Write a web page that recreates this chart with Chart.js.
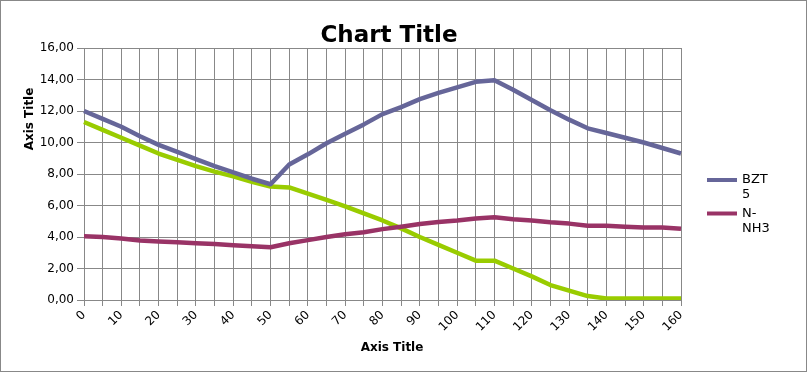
<!DOCTYPE html>
<html>
<head>
<meta charset="utf-8">
<script src="https://cdn.jsdelivr.net/npm/chart.js@4"></script>
<style>
  body { margin: 0; background: #fff; }
  #wrap { position: relative; width: 807px; height: 372px; }
  #frame { position: absolute; left: 0; top: 0; width: 807px; height: 372px; box-sizing: border-box; border: 1px solid #888; pointer-events: none; }
</style>
</head>
<body>
<div id="wrap">
  <canvas id="chart" width="807" height="372"></canvas>
  <div id="frame"></div>
</div>
<script>
// Data
const xLabels = [0, 5, 10, 15, 20, 25, 30, 35, 40, 45, 50, 55, 60, 65, 70, 75, 80,
                 85, 90, 95, 100, 105, 110, 115, 120, 125, 130, 135, 140, 145, 150, 155, 160];
const seriesNames = ['BZT 5', 'N-NH3', 'Series 3'];
const bzt5 = [12.0, 11.5, 11.0, 10.4, 9.85, 9.4, 8.95, 8.5, 8.1, 7.7, 7.35,
              8.6, 9.25, 9.95, 10.55, 11.15, 11.8, 12.25, 12.75, 13.15, 13.5, 13.85, 13.95,
              13.35, 12.7, 12.05, 11.45, 10.9, 10.6, 10.3, 10.0, 9.65, 9.3];
const nnh3 = [4.05, 4.0, 3.9, 3.78, 3.72, 3.67, 3.6, 3.55, 3.48, 3.42, 3.35,
              3.6, 3.8, 4.0, 4.18, 4.3, 4.5, 4.65, 4.82, 4.95, 5.05, 5.18, 5.25,
              5.12, 5.05, 4.93, 4.85, 4.72, 4.72, 4.65, 4.6, 4.6, 4.52];
const series3 = [11.3, 10.8, 10.3, 9.8, 9.3, 8.9, 8.5, 8.15, 7.85, 7.5, 7.2,
                 7.15, 6.75, 6.35, 5.95, 5.5, 5.05, 4.55, 4.0, 3.5, 3.0, 2.5, 2.5,
                 2.0, 1.5, 0.95, 0.6, 0.25, 0.1, 0.1, 0.1, 0.1, 0.1];
const legendShown = [true, true, false];

const chartTitle = 'Chart Title';
const xTitle = 'Axis Title';
const yTitle = 'Axis Title';

const FONT = '"DejaVu Sans", sans-serif';

/**
 * Break a legend label into lines that fit a narrow width
 */
function wrapLabel(ctx, text, maxWidth) {
    const tokens = text.replace(/-/g, '-\u0000').split(/\u0000| /).filter(t => t);
    const lines = [];
    let cur = '';
    tokens.forEach(tok => {
        const sep = cur && !cur.endsWith('-') ? ' ' : '';
        const trial = cur + sep + tok;
        if (cur && ctx.measureText(trial).width > maxWidth) {
            lines.push(cur);
            cur = tok;
        } else {
            cur = trial;
        }
    });
    if (cur) lines.push(cur);
    return lines;
}

/**
 * Titles and the wrapped legend drawn on the canvas
 */
const decorPlugin = {
    id: 'decor',
    afterDraw(chart) {
        const ctx = chart.ctx;
        ctx.save();
        ctx.fillStyle = '#000';

        // chart title
        ctx.font = 'bold 23px ' + FONT;
        ctx.textAlign = 'center';
        ctx.textBaseline = 'alphabetic';
        ctx.fillText(chartTitle, 389, 42);

        // x axis title
        ctx.font = 'bold 12px ' + FONT;
        ctx.fillText(xTitle, 392, 351);

        // y axis title
        ctx.save();
        ctx.translate(30, 119);
        ctx.rotate(-Math.PI / 2);
        ctx.textBaseline = 'middle';
        ctx.fillText(yTitle, 0, 0);
        ctx.restore();

        // legend
        ctx.font = '13px ' + FONT;
        ctx.textAlign = 'left';
        ctx.textBaseline = 'middle';
        let y = 180;
        chart.data.datasets.forEach((ds, i) => {
            if (!legendShown[i]) return;
            ctx.strokeStyle = ds.borderColor;
            ctx.lineWidth = 4;
            ctx.beginPath();
            ctx.moveTo(707, y);
            ctx.lineTo(737, y);
            ctx.stroke();
            const lines = wrapLabel(ctx, ds.label, 32);
            lines.forEach((ln, k) => ctx.fillText(ln, 742, y + k * 15));
            y += 33.5;
        });
        ctx.restore();
    }
};

function makeDataset(label, data, color) {
    return {
        label: label,
        data: data,
        borderColor: color,
        backgroundColor: color,
        borderWidth: 4.5,
        pointRadius: 0,
        tension: 0,
        fill: false,
        borderJoinStyle: 'round'
    };
}

const ctx = document.getElementById('chart').getContext('2d');
new Chart(ctx, {
    type: 'line',
    data: {
        labels: xLabels,
        datasets: [
            makeDataset(seriesNames[0], bzt5, '#666699'),
            makeDataset(seriesNames[1], nnh3, '#993366'),
            makeDataset(seriesNames[2], series3, '#99cc00')
        ]
    },
    options: {
        responsive: false,
        animation: false,
        layout: { padding: { top: 48, right: 126, left: 0, bottom: 0 } },
        plugins: {
            legend: { display: false },
            title: { display: false },
            tooltip: { enabled: false }
        },
        scales: {
            x: {
                type: 'category',
                offset: false,
                grid: { color: '#888', lineWidth: 1, tickLength: 6 },
                border: { color: '#888' },
                ticks: {
                    autoSkip: false,
                    maxRotation: 45,
                    minRotation: 45,
                    padding: 2,
                    color: '#000',
                    font: { family: FONT, size: 12 },
                    callback: (v, i) => (xLabels[i] % 10 === 0 ? String(xLabels[i]) : '')
                },
                afterFit: s => { s.height = 72; }
            },
            y: {
                min: 0,
                max: 16,
                grid: { color: '#888', lineWidth: 1, tickLength: 7 },
                border: { color: '#888' },
                ticks: {
                    stepSize: 2,
                    padding: 3,
                    color: '#000',
                    font: { family: FONT, size: 12 },
                    callback: v => v.toFixed(2).replace('.', ',')
                },
                afterFit: s => { s.width = 84; }
            }
        }
    },
    plugins: [decorPlugin]
});
</script>
</body>
</html>
